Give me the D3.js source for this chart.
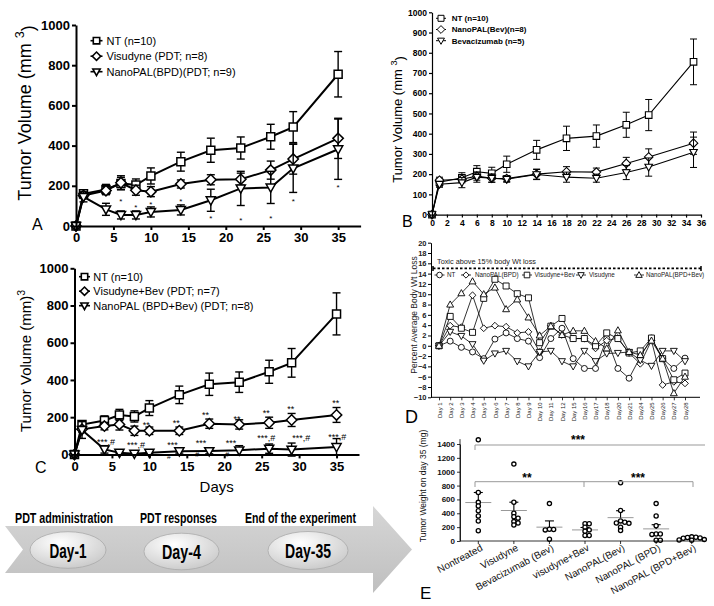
<!DOCTYPE html>
<html><head><meta charset="utf-8">
<script src="https://cdn.jsdelivr.net/npm/d3@7"></script>
<style>
body{margin:0;background:#fff;}
svg{display:block;font-family:"Liberation Sans",Arial,sans-serif;}
</style></head><body>
<svg id="c" width="714" height="606"></svg>
<script>
// ---------- DATA ----------
const days = [0,1,4,6,8,10,14,18,22,26,29,35];
// Panel A
const ntVol = [0,160,182,212,204,249,320,377,388,444,492,755];
const ntErr = [0,20,25,30,30,40,47,60,55,62,77,113];
const visudyneVol = [0,152,176,215,178,171,209,230,233,278,333,436];
const visudyneErr = [0,15,20,35,25,25,20,25,30,45,75,100];
const nanoBpdVol = [0,145,83,55,55,70,80,128,187,192,287,382];
const nanoBpdErr = [0,25,30,20,20,25,25,55,85,80,120,150];
const starsA = [[6,134],[8,104],[10,116],[14,134],[18,46],[22,40],[26,46],[29,134],[35,200]];
// Panel B
const nanoBevVol = [0,170,175,190,180,178,200,212,210,253,285,353];
const nanoBevErr = [0,15,15,20,20,15,25,25,20,30,40,55];
const bevVol = [0,150,158,185,180,175,198,185,180,208,235,308];
const bevErr = [0,15,25,25,20,15,25,25,20,35,45,75];
// Panel C
const visBevVol = [0,135,152,161,127,127,127,165,161,170,185,212];
const visBevErr = [0,15,20,30,25,20,20,25,25,30,35,40];
const nanoBpdBevVol = [0,131,27,9,4,9,17,18,22,31,26,40];
const nanoBpdBevErr = [0,45,20,5,5,5,10,15,25,25,35,45];
const starsC2 = [[9.6,169],[13.6,179],[17.5,222],[21.7,202],[25.6,233],[28.9,255],[34.9,288]];
const starsC3 = [[4.2,77,"***,#"],[8.2,61,"***,#"],[13.1,61,"***"],[16.9,72,"***"],[20.9,72,"***"],[25.6,95,"***,#"],[30.3,95,"***,#"],[35.1,100,"***,#"]];
const hashC = [[12.6,-10],[16.4,0],[20.4,0]];
// Tick labels
const xTicksAC = [0,5,10,15,20,25,30,35];
const yTicksAC = [0,200,400,600,800,1000];
const xTicksB = [0,2,4,6,8,10,12,14,16,18,20,22,24,26,28,30,32,34,36];
const yTicksB = [0,100,200,300,400,500,600,700,800,900,1000];
// Panel D
const catsD = ["Day 1","Day 2","Day 3","Day 4","Day 5","Day 6","Day 7","Day 8","Day 9","Day 10","Day 11","Day 12","Day 15","Day16","Day17","Day18","Day20","Day21","Day24","Day25","Day26","Day27","Day28"];
const wtNT = [0,0.9,-0.3,-1.2,-2.5,1.3,2.5,1.4,0.9,-2.3,1.4,3.4,-2.5,-4.4,-4.4,1.4,-4.4,-6.3,-2.2,1.5,-2.5,-4.4,-2.4];
const wtNanoBpd = [0,3.9,3.6,9.8,3.4,3.9,3.7,2.5,2.7,-1.2,3.9,2.1,1.4,1.4,-0.5,1.0,1.5,-1.4,-3.5,1.0,-7.6,-7.0,-7.3];
const wtVisBev = [0,5.7,3.4,2.6,9.2,12.9,11.6,10.1,9.3,0.6,3.8,5.3,1.4,1.4,0,2.5,1.4,-1.4,-1.0,1.5,-2.5,-6.6,-5.3];
const wtVisudyne = [0,2.7,1.9,0.3,-2.9,-1.5,-1,-3,-4,-1.2,-1,-3,-4,-1,-3,-1.5,-1.4,-1.2,-2.8,-3.9,-1,-1,-3];
const wtNanoBpdBev = [0,8,10.2,12.5,10,11.3,7.1,9,5.5,2.0,3.8,2.1,2.9,2.9,0.9,-0.5,3,-1.2,-1.8,1,-2.5,-9.2,-6];
const yTicksD = [-10,-8,-6,-4,-2,0,2,4,6,8,10,12,14,16,18,20];
const toxicLimit = 15;
// Panel E
const groupsE = ["Nontreated","Visudyne","Bevacizumab (Bev)","visudyne+Bev","NanoPAL(Bev)","NanoPAL (BPD)","NanoPAL (BPD+Bev)"];
const wNontreated = [1460,700,558,505,437,361,289,149];
const wVisudyne = [1110,560,400,350,330,280,260,230];
const wBev = [540,170,165,160,25];
const wVisBev = [250,250,200,160,140,80,80];
const wNanoBev = [840,440,290,270,260,255,200,150];
const wNanoBpd = [540,360,220,100,100,95,10,10];
const wNanoBpdBev = [60,55,50,45,40,20,15,10];
const meanE = [555,440,200,160,337,175,40];
const semE = [145,120,90,35,100,60,12];
const yTicksE = [0,200,400,600,800,1000,1200,1400];

// ---------- HELPERS ----------
const svg = d3.select("#c");
svg.append("rect").attr("width",714).attr("height",606).attr("fill","#fff");
const fmt = d3.format("d");

function mpath(type, r){
  switch(type){
    case "square": return `M${-r},${-r}H${r}V${r}H${-r}Z`;
    case "diamond": {const q=r*1.3; return `M0,${-q}L${q},0L0,${q}L${-q},0Z`;}
    case "triUp": return `M0,${-r*1.2}L${r*1.15},${r*0.85}L${-r*1.15},${r*0.85}Z`;
    case "triDown": return `M0,${r*1.2}L${r*1.15},${-r*0.85}L${-r*1.15},${-r*0.85}Z`;
    default: return `M${r},0A${r},${r} 0 1,1 ${-r},0A${r},${r} 0 1,1 ${r},0Z`;
  }
}

function drawSeries(g, x, y, xs, vals, errs, marker, o){
  if(errs){
    const eg = g.append("g").attr("stroke","#000").attr("stroke-width",o.ew);
    xs.forEach((d,i)=>{
      if(!errs[i]) return;
      const cx=x(d), y1=y(vals[i]-errs[i]), y2=y(vals[i]+errs[i]);
      eg.append("line").attr("x1",cx).attr("x2",cx).attr("y1",y1).attr("y2",y2);
      eg.append("line").attr("x1",cx-o.cap).attr("x2",cx+o.cap).attr("y1",y1).attr("y2",y1);
      eg.append("line").attr("x1",cx-o.cap).attr("x2",cx+o.cap).attr("y1",y2).attr("y2",y2);
    });
  }
  g.append("path").datum(xs.map((d,i)=>[d,vals[i]]))
    .attr("d", d3.line().x(p=>x(p[0])).y(p=>y(p[1])))
    .attr("fill","none").attr("stroke","#000").attr("stroke-width",o.lw);
  g.append("g").selectAll("path").data(xs.map((d,i)=>[d,vals[i]])).join("path")
    .attr("transform",p=>`translate(${x(p[0])},${y(p[1])})`)
    .attr("d", mpath(marker,o.r)).attr("fill","#fff").attr("stroke","#000").attr("stroke-width",o.mw);
}

function styleAxis(sel, o){
  sel.select(".domain").attr("stroke","#000").attr("stroke-width",o.sw);
  sel.selectAll(".tick line").attr("stroke","#000").attr("stroke-width",o.sw);
  sel.selectAll(".tick text").attr("fill",o.fill||"#000").attr("font-size",o.fs)
    .attr("font-weight",o.fw||"bold").attr("font-family","Liberation Sans, Arial, sans-serif");
  sel.attr("font-size",null).attr("font-family",null);
}

function legend(g, items, o){
  items.forEach((it,i)=>{
    const yy = o.y0 + i*o.dy;
    g.append("line").attr("x1",o.mx-o.ll).attr("x2",o.mx+o.ll).attr("y1",yy).attr("y2",yy).attr("stroke","#000").attr("stroke-width",o.lw);
    g.append("path").attr("transform",`translate(${o.mx},${yy})`).attr("d",mpath(it[1],o.r))
      .attr("fill","#fff").attr("stroke","#000").attr("stroke-width",o.mw);
    g.append("text").attr("x",o.tx).attr("y",yy).attr("dy","0.35em").attr("font-size",o.fs)
      .attr("font-weight",o.fw||"normal").text(it[0]);
  });
}

function ylabel(x, y, fs, parts){
  const t = svg.append("text").attr("transform",`translate(${x},${y}) rotate(-90)`)
    .attr("text-anchor","middle").attr("dy","0.35em").attr("font-size",fs);
  t.append("tspan").text(parts[0]);
  t.append("tspan").attr("dy","-0.55em").attr("font-size",fs*0.7).text(parts[1]);
  t.append("tspan").attr("dy","0.55em").text(parts[2]);
}

function letter(x,y,t,fs){ svg.append("text").attr("x",x).attr("y",y).attr("font-size",fs).text(t); }

// ---------- PANEL A ----------
const xA = d3.scaleLinear([0,38],[76,360.6]);
const yA = d3.scaleLinear([0,1000],[226,25]);
const gA = svg.append("g");
const oAC = {lw:2, ew:1.4, cap:4, r:4, mw:1.5};
drawSeries(gA,xA,yA,days,ntVol,ntErr,"square",oAC);
drawSeries(gA,xA,yA,days,visudyneVol,visudyneErr,"diamond",oAC);
drawSeries(gA,xA,yA,days,nanoBpdVol,nanoBpdErr,"triDown",oAC);
gA.append("g").attr("transform",`translate(0,${yA(0)})`)
  .call(d3.axisBottom(xA).tickValues(xTicksAC).tickFormat(fmt).tickSize(4).tickSizeOuter(0).tickPadding(3))
  .call(s=>styleAxis(s,{sw:2,fs:13}));
gA.append("g").attr("transform",`translate(${xA(0)},0)`)
  .call(d3.axisLeft(yA).tickValues(yTicksAC).tickFormat(fmt).tickSize(4).tickSizeOuter(0).tickPadding(2))
  .call(s=>styleAxis(s,{sw:2,fs:13}));
gA.selectAll(".starA").data(starsA).join("text").attr("x",d=>xA(d[0])).attr("y",d=>yA(d[1]))
  .attr("dy","0.58em").attr("text-anchor","middle").attr("font-size",8).text("*");
legend(gA,[["NT (n=10)","square"],["Visudyne (PDT; n=8)","diamond"],["NanoPAL(BPD)(PDT; n=9)","triDown"]],
  {y0:40.7,dy:15.5,mx:96.5,ll:6,r:3.2,lw:1.6,mw:1.6,tx:106.5,fs:11});
ylabel(25,113,18,["Tumor Volume (mm ","3",")"]);
letter(32,230,"A",16);

// ---------- PANEL B ----------
const xB = d3.scaleLinear([0,36],[432,701]);
const yB = d3.scaleLinear([0,1000],[214.6,12.3]);
const gB = svg.append("g");
const oB = {lw:1.1, ew:1, cap:3.5, r:3.3, mw:1.1};
drawSeries(gB,xB,yB,days,ntVol,ntErr,"square",oB);
drawSeries(gB,xB,yB,days,nanoBevVol,nanoBevErr,"diamond",oB);
drawSeries(gB,xB,yB,days,bevVol,bevErr,"triDown",oB);
gB.append("g").attr("transform",`translate(0,${yB(0)})`)
  .call(d3.axisBottom(xB).tickValues(xTicksB).tickFormat(fmt).tickSize(3).tickSizeOuter(0).tickPadding(2))
  .call(s=>styleAxis(s,{sw:1.2,fs:8.5}));
gB.append("g").attr("transform",`translate(${xB(0)},0)`)
  .call(d3.axisLeft(yB).tickValues(yTicksB).tickFormat(fmt).tickSize(3).tickSizeOuter(0).tickPadding(2))
  .call(s=>styleAxis(s,{sw:1.2,fs:8.5}));
legend(gB,[["NT (n=10)","square"],["NanoPAL(Bev)(n=8)","diamond"],["Bevacizumab (n=5)","triDown"]],
  {y0:18.3,dy:11.2,mx:441,ll:5,r:3,lw:1,mw:1,tx:451.7,fs:8,fw:"bold"});
ylabel(397,119.5,13,["Tumor Volume (mm ","3",")"]);
letter(402,226.7,"B",16);

// ---------- PANEL C ----------
const xC = d3.scaleLinear([0,38],[74.5,359]);
const yC = d3.scaleLinear([0,1000],[454.4,268.3]);
const gC = svg.append("g");
drawSeries(gC,xC,yC,days,ntVol,ntErr,"square",oAC);
drawSeries(gC,xC,yC,days,visBevVol,visBevErr,"diamond",oAC);
drawSeries(gC,xC,yC,days,nanoBpdBevVol,nanoBpdBevErr,"triDown",oAC);
gC.append("g").attr("transform",`translate(0,${yC(0)})`)
  .call(d3.axisBottom(xC).tickValues(xTicksAC).tickFormat(fmt).tickSize(4).tickSizeOuter(0).tickPadding(3))
  .call(s=>styleAxis(s,{sw:2,fs:13}));
gC.append("g").attr("transform",`translate(${xC(0)},0)`)
  .call(d3.axisLeft(yC).tickValues(yTicksAC).tickFormat(fmt).tickSize(4).tickSizeOuter(0).tickPadding(2))
  .call(s=>styleAxis(s,{sw:2,fs:13}));
gC.selectAll(".s2").data(starsC2).join("text").attr("x",d=>xC(d[0])).attr("y",d=>yC(d[1]))
  .attr("dy","0.55em").attr("text-anchor","middle").attr("font-size",9).text("**");
gC.selectAll(".s3").data(starsC3).join("text").attr("x",d=>xC(d[0])).attr("y",d=>yC(d[1]))
  .attr("dy","0.5em").attr("text-anchor","middle").attr("font-size",9).text(d=>d[2]);
gC.selectAll(".h").data(hashC).join("text").attr("x",d=>xC(d[0])).attr("y",d=>yC(d[1]))
  .attr("dy","0.35em").attr("text-anchor","middle").attr("font-size",7).text("#");
legend(gC,[["NT (n=10)","square"],["Visudyne+Bev (PDT; n=7)","diamond"],["NanoPAL (BPD+Bev) (PDT; n=8)","triDown"]],
  {y0:276.7,dy:14.5,mx:84.5,ll:5.5,r:3.2,lw:1.6,mw:1.6,tx:93.3,fs:11});
ylabel(26,361,15,["Tumor Volume (mm)","3",""]);
svg.append("text").attr("x",216.7).attr("y",492).attr("text-anchor","middle").attr("font-size",15).text("Days");
letter(35,472.7,"C",16);

// ---------- PANEL D ----------
const xD = d3.scalePoint(catsD,[439,685]);
const yD = d3.scaleLinear([-10,20],[397.3,242.7]);
const gD = svg.append("g");
[[wtNT,"circle"],[wtNanoBpd,"diamond"],[wtVisBev,"square"],[wtVisudyne,"triDown"],[wtNanoBpdBev,"triUp"]]
  .forEach(s=>drawSeries(gD,xD,yD,catsD,s[0],null,s[1],{lw:0.8,r:s[1]==="diamond"?2.6:3,mw:0.9}));
gD.append("g").attr("transform",`translate(431,0)`)
  .call(d3.axisLeft(yD).tickValues(yTicksD).tickFormat(fmt).tickSize(3).tickSizeOuter(0).tickPadding(1.5))
  .call(s=>styleAxis(s,{sw:1,fs:7.5,fill:"#222"}));
gD.append("line").attr("x1",431).attr("x2",700).attr("y1",yD(-10)).attr("y2",yD(-10)).attr("stroke","#000").attr("stroke-width",1);
const axd = gD.append("g").attr("transform",`translate(0,${yD(-10)})`)
  .call(d3.axisBottom(xD).tickSize(3).tickSizeOuter(0))
  .call(s=>styleAxis(s,{sw:0.8,fs:6,fw:"normal",fill:"#222"}));
axd.select(".domain").remove();
axd.selectAll(".tick text").attr("transform","rotate(-90)").attr("x",-5).attr("y",0).attr("dy","0.35em").attr("text-anchor","end");
gD.append("line").attr("x1",433).attr("x2",701).attr("y1",yD(toxicLimit)).attr("y2",yD(toxicLimit))
  .attr("stroke","#000").attr("stroke-width",1.8).attr("stroke-dasharray","2.5,2");
[433,701].forEach(xx=>gD.append("line").attr("x1",xx).attr("x2",xx).attr("y1",yD(toxicLimit)-2.5).attr("y2",yD(toxicLimit)+2.5).attr("stroke","#000").attr("stroke-width",1.5));
gD.append("text").attr("x",437).attr("y",264).attr("font-size",7.3).attr("fill","#222").text("Toxic above 15% body Wt loss");
[["NT","circle",439.5,447],["NanoPAL(BPD)","diamond",466,475],["Visudyne+Bev","square",527,534.5],["Visudyne","triDown",581,589],["NanoPAL(BPD+Bev)","triUp",639,646]]
  .forEach(it=>{
    gD.append("line").attr("x1",it[2]-5).attr("x2",it[2]+5).attr("y1",275).attr("y2",275).attr("stroke","#000").attr("stroke-width",0.8);
    gD.append("path").attr("transform",`translate(${it[2]},275)`).attr("d",mpath(it[1],it[1]==="diamond"?2.4:2.8)).attr("fill","#fff").attr("stroke","#000").attr("stroke-width",0.9);
    gD.append("text").attr("x",it[3]).attr("y",275).attr("dy","0.35em").attr("font-size",6.3).attr("fill","#222").text(it[0]);
  });
svg.append("text").attr("transform","translate(414,315) rotate(-90)").attr("text-anchor","middle").attr("dy","0.35em")
  .attr("font-size",8.5).attr("fill","#222").text("Percent Average Body Wt Loss");
letter(405,423.3,"D",18);

// ---------- PANEL E ----------
const xE = d3.scalePoint(groupsE,[478.3,691.7]);
const yE = d3.scaleLinear([0,1400],[541,444]);
const gE = svg.append("g");
const seriesE = [wNontreated,wVisudyne,wBev,wVisBev,wNanoBev,wNanoBpd,wNanoBpdBev];
function swarm(vals, cx, step, minD){
  const placed=[], out=[];
  const order = vals.map((v,i)=>i).sort((a,b)=>vals[b]-vals[a]);
  for(const i of order){
    const py=yE(vals[i]); let px=cx;
    for(const c of [0,1,-1,2,-2,3,-3]){ px=cx+c*step; if(placed.every(p=>Math.hypot(p[0]-px,p[1]-py)>=minD)) break; }
    placed.push([px,py]); out[i]=[px,py];
  }
  return out;
}
groupsE.forEach((gname,i)=>{
  const cx=xE(gname);
  gE.append("line").attr("x1",cx-13).attr("x2",cx+13).attr("y1",yE(meanE[i])).attr("y2",yE(meanE[i])).attr("stroke","#999").attr("stroke-width",1);
  gE.append("line").attr("x1",cx).attr("x2",cx).attr("y1",yE(meanE[i])).attr("y2",yE(meanE[i]+semE[i])).attr("stroke","#000").attr("stroke-width",1.1);
  gE.append("line").attr("x1",cx-4.5).attr("x2",cx+4.5).attr("y1",yE(meanE[i]+semE[i])).attr("y2",yE(meanE[i]+semE[i])).attr("stroke","#000").attr("stroke-width",1.1);
  swarm(seriesE[i],cx,4.2,3.4).forEach(p=>{
    gE.append("circle").attr("cx",p[0]).attr("cy",p[1]).attr("r",2.1).attr("fill","#fff").attr("stroke","#000").attr("stroke-width",1.3);
  });
});
gE.append("g").attr("transform",`translate(460,0)`)
  .call(d3.axisLeft(yE).tickValues(yTicksE).tickFormat(fmt).tickSize(3).tickSizeOuter(0).tickPadding(2))
  .call(s=>styleAxis(s,{sw:0.8,fs:8,fill:"#111"}));
gE.append("line").attr("x1",460).attr("x2",460).attr("y1",yE(0)).attr("y2",yE(1470)).attr("stroke","#000").attr("stroke-width",0.8);
gE.append("line").attr("x1",460).attr("x2",705).attr("y1",yE(0)).attr("y2",yE(0)).attr("stroke","#000").attr("stroke-width",0.8);
groupsE.forEach(gname=>{
  const cx=xE(gname);
  gE.append("line").attr("x1",cx).attr("x2",cx).attr("y1",yE(0)).attr("y2",yE(0)+3).attr("stroke","#000").attr("stroke-width",0.8);
  gE.append("text").attr("transform",`translate(${cx+5},${yE(0)+9}) rotate(-28)`).attr("text-anchor","end")
    .attr("font-size",10).attr("fill","#111").text(gname);
});
const br = gE.append("g").attr("fill","none").attr("stroke","#999").attr("stroke-width",1);
br.append("path").attr("d",`M475,450V445H705`);
br.append("path").attr("d",`M475,487V481.7H584V487M584,481.7H693V487`);
gE.append("text").attr("x",578).attr("y",444).attr("text-anchor","middle").attr("font-size",12).attr("font-weight","bold").text("***");
gE.append("text").attr("x",527).attr("y",482).attr("text-anchor","middle").attr("font-size",12).attr("font-weight","bold").text("**");
gE.append("text").attr("x",638).attr("y",482).attr("text-anchor","middle").attr("font-size",12).attr("font-weight","bold").text("***");
svg.append("text").attr("transform","translate(423,486) rotate(-90)").attr("text-anchor","middle").attr("dy","0.35em")
  .attr("font-size",8.5).attr("fill","#111").text("Tumor Weight on day 35 (mg)");
letter(420,599,"E",17);

// ---------- TIMELINE ARROW ----------
const defs = svg.append("defs");
const lg = defs.append("linearGradient").attr("id","arrG").attr("x1",0).attr("y1",0).attr("x2",0).attr("y2",1);
lg.append("stop").attr("offset","0%").attr("stop-color","#d6d6d6");
lg.append("stop").attr("offset","100%").attr("stop-color","#bfbfbf");
const rg = defs.append("radialGradient").attr("id","ellG").attr("cx","40%").attr("cy","30%").attr("r","75%");
rg.append("stop").attr("offset","0%").attr("stop-color","#ffffff");
rg.append("stop").attr("offset","100%").attr("stop-color","#c9c9c9");
svg.append("path").attr("d","M5,526L373,526L373,506L412,549.5L373,593L373,573L5,573L23,549.5Z").attr("fill","url(#arrG)");
const stages = [["PDT administration","Day-1",64,98,68,550,38,18.3,37],["PDT responses","Day-4",178.5,77,181.5,551.5,37.5,18.3,39],["End of the experiment","Day-35",300.5,111,308,550.5,40,19,46]];
stages.forEach(s=>{
  svg.append("text").attr("x",s[2]).attr("y",523).attr("text-anchor","middle").attr("font-size",14).attr("font-weight","bold")
    .attr("textLength",s[3]).attr("lengthAdjust","spacingAndGlyphs").text(s[0]);
  svg.append("ellipse").attr("cx",s[4]).attr("cy",s[5]).attr("rx",s[6]).attr("ry",s[7]).attr("fill","url(#ellG)").attr("stroke","#aaa").attr("stroke-width",0.8);
  svg.append("text").attr("x",s[4]).attr("y",s[5]+7.5).attr("text-anchor","middle").attr("font-size",20).attr("font-weight","bold")
    .attr("textLength",s[8]).attr("lengthAdjust","spacingAndGlyphs").text(s[1]);
});
</script></body></html>
